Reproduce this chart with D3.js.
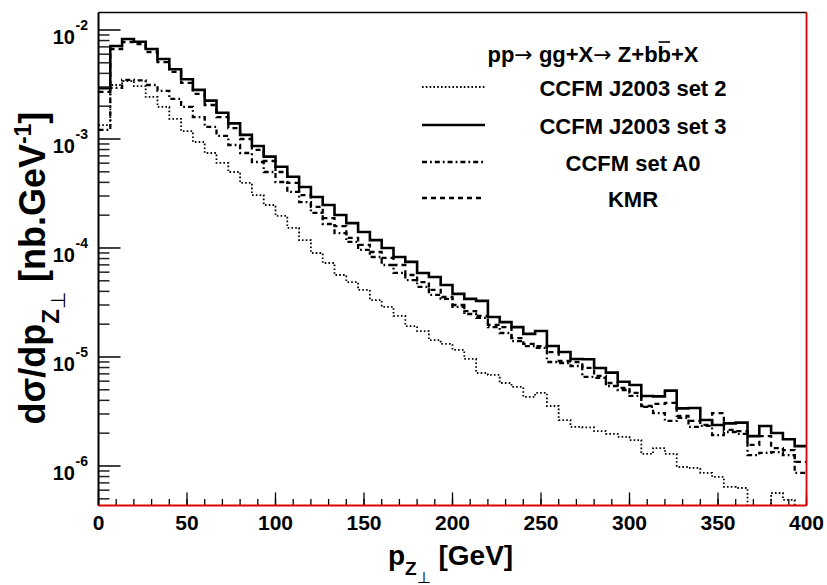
<!DOCTYPE html>
<html>
<head>
<meta charset="utf-8">
<script src="https://cdn.jsdelivr.net/npm/d3@7"></script>
<style>
  body { margin: 0; background: #fff; }
  text { font-family: "Liberation Sans", Arial, Helvetica, sans-serif; font-weight: bold; fill: #000; }
</style>
</head>
<body>
<div id="chart"></div>
<script>
// histogram binning: 60 bins from 0 to 400 GeV
var nBins = 60, xMin = 0, xMax = 400;

// bin contents (nb/GeV)
var set2 = [1.34e-3, 3.13e-3, 3.40e-3, 3.06e-3, 2.43e-3, 1.97e-3, 1.53e-3, 1.18e-3, 9.38e-4, 7.44e-4,
            6.03e-4, 4.98e-4, 3.95e-4, 3.06e-4, 2.48e-4, 1.97e-4, 1.53e-4, 1.18e-4, 9.0e-5, 7.28e-5,
            5.65e-5, 4.87e-5, 4.12e-5, 3.33e-5, 2.88e-5, 2.38e-5, 1.92e-5, 1.73e-5, 1.43e-5, 1.32e-5,
            1.16e-5, 9.59e-6, 7.13e-6, 6.84e-6, 5.77e-6, 5.31e-6, 4.30e-6, 4.68e-6, 3.55e-6, 2.64e-6,
            2.28e-6, 2.26e-6, 2.09e-6, 1.97e-6, 1.85e-6, 1.73e-6, 1.29e-6, 1.46e-6, 1.29e-6, 9.79e-7,
            9.59e-7, 8.63e-7, 7.93e-7, 6.42e-7, 6.28e-7, 3.5e-7, 3.0e-7, 5.65e-7, 4.88e-7, 3.0e-7];
var set3 = [2.92e-3, 7.13e-3, 8.27e-3, 7.81e-3, 6.69e-3, 5.42e-3, 4.36e-3, 3.53e-3, 2.82e-3, 2.25e-3,
            1.74e-3, 1.39e-3, 1.09e-3, 8.63e-4, 6.89e-4, 5.57e-4, 4.51e-4, 3.63e-4, 2.94e-4, 2.48e-4,
            2.01e-4, 1.69e-4, 1.40e-4, 1.18e-4, 1.00e-4, 8.27e-5, 7.45e-5, 5.90e-5, 5.42e-5, 4.58e-5,
            3.79e-5, 3.41e-5, 3.27e-5, 2.33e-5, 2.09e-5, 1.88e-5, 1.63e-5, 1.73e-5, 1.26e-5, 1.11e-5,
            9.59e-6, 9.52e-6, 7.93e-6, 7.18e-6, 5.93e-6, 5.53e-6, 4.39e-6, 4.35e-6, 4.91e-6, 3.38e-6,
            3.40e-6, 2.64e-6, 2.38e-6, 2.46e-6, 2.50e-6, 1.88e-6, 2.33e-6, 2.01e-6, 1.76e-6, 1.52e-6];
var setA0 = [1.21e-3, 2.94e-3, 3.48e-3, 3.45e-3, 3.13e-3, 2.76e-3, 2.33e-3, 1.97e-3, 1.59e-3, 1.29e-3,
             1.07e-3, 8.81e-4, 7.44e-4, 6.15e-4, 4.98e-4, 4.03e-4, 3.27e-4, 2.64e-4, 2.10e-4, 1.66e-4,
             1.37e-4, 1.14e-4, 9.59e-5, 8.27e-5, 6.98e-5, 5.90e-5, 5.08e-5, 4.39e-5, 3.71e-5, 3.41e-5,
             2.88e-5, 2.48e-5, 2.28e-5, 1.88e-5, 1.66e-5, 1.40e-5, 1.26e-5, 1.21e-5, 9.00e-6, 8.81e-6,
             8.27e-6, 6.56e-6, 6.42e-6, 5.42e-6, 4.98e-6, 4.39e-6, 3.48e-6, 3.06e-6, 2.59e-6, 2.76e-6,
             2.28e-6, 2.33e-6, 1.92e-6, 2.05e-6, 1.97e-6, 1.26e-6, 1.32e-6, 1.34e-6, 1.26e-6, 8.63e-7];
var kmr = [2.70e-3, 6.69e-3, 7.76e-3, 7.44e-3, 6.28e-3, 5.08e-3, 4.12e-3, 3.27e-3, 2.59e-3, 2.05e-3,
           1.59e-3, 1.26e-3, 1.00e-3, 7.93e-4, 6.28e-4, 4.98e-4, 3.95e-4, 3.06e-4, 2.38e-4, 1.88e-4,
           1.59e-4, 1.24e-4, 1.07e-4, 9.19e-5, 8.10e-5, 6.98e-5, 5.65e-5, 4.87e-5, 4.12e-5, 3.55e-5,
           3.00e-5, 2.64e-5, 2.38e-5, 1.97e-5, 1.88e-5, 1.49e-5, 1.32e-5, 1.26e-5, 1.11e-5, 9.19e-6,
           9.00e-6, 7.93e-6, 6.70e-6, 5.77e-6, 5.20e-6, 4.68e-6, 3.55e-6, 3.71e-6, 3.79e-6, 2.88e-6,
           2.59e-6, 2.38e-6, 3.06e-6, 2.14e-6, 2.09e-6, 1.56e-6, 1.88e-6, 1.46e-6, 1.40e-6, 1.09e-6];

var xTickLabels = [0, 50, 100, 150, 200, 250, 300, 350, 400];
var yDecades = [-6, -5, -4, -3, -2];
var legendLabels = ["CCFM J2003 set 2", "CCFM J2003 set 3", "CCFM set A0", "KMR"];

var W = 827, H = 585;
var plotL = 98.5, plotR = 806.5, plotT = 12.5, plotB = 505.5;

var svg = d3.select("#chart").append("svg")
    .attr("width", W).attr("height", H);
svg.append("rect").attr("width", W).attr("height", H).attr("fill", "#fff");

var x = d3.scaleLinear().domain([xMin, xMax]).range([plotL, plotR]);
var y = d3.scaleLog().domain([4.34e-7, 1.447e-2]).range([plotB, plotT]);

svg.append("clipPath").attr("id", "plot")
  .append("rect")
    .attr("x", plotL).attr("y", plotT)
    .attr("width", plotR - plotL).attr("height", plotB - plotT);

var edges = d3.range(nBins + 1).map(function(i) { return xMin + i * (xMax - xMin) / nBins; });

function steps(vals) {
  var pts = [];
  vals.forEach(function(v, i) {
    pts.push([edges[i], v]);
    pts.push([edges[i + 1], v]);
  });
  return pts;
}

var line = d3.line()
    .x(function(d) { return x(d[0]); })
    .y(function(d) { return y(d[1]); });

// series styles (ROOT line styles)
var series = [
  {vals: set2,  width: 1.8, dash: "1.6,2.2"},
  {vals: setA0, width: 2.3, dash: "5,3,1.8,3"},
  {vals: kmr,   width: 2.3, dash: "5,4"},
  {vals: set3,  width: 2.6, dash: null}
];

var g = svg.append("g").attr("clip-path", "url(#plot)");
series.forEach(function(s) {
  g.append("path")
    .attr("d", line(steps(s.vals)))
    .attr("fill", "none")
    .attr("stroke", "#000")
    .attr("stroke-width", s.width)
    .attr("stroke-dasharray", s.dash);
});

// y ticks (log)
var yMinor = [];
[-7, -6, -5, -4, -3, -2].forEach(function(e) {
  for (var m = 2; m <= 9; m++) {
    var v = m * Math.pow(10, e);
    if (v > y.domain()[0] && v < y.domain()[1]) yMinor.push(v);
  }
});
svg.selectAll(".yminor").data(yMinor).enter().append("line")
  .attr("x1", plotL).attr("x2", plotL + 11)
  .attr("y1", function(d) { return y(d); }).attr("y2", function(d) { return y(d); })
  .attr("stroke", "#222").attr("stroke-width", 1.5);
svg.selectAll(".ymajor").data(yDecades).enter().append("line")
  .attr("x1", plotL).attr("x2", plotL + 22)
  .attr("y1", function(d) { return y(Math.pow(10, d)); }).attr("y2", function(d) { return y(Math.pow(10, d)); })
  .attr("stroke", "#000").attr("stroke-width", 1.5);

yDecades.forEach(function(e) {
  var yy = y(Math.pow(10, e));
  svg.append("text").attr("x", 75).attr("y", yy + 14)
    .attr("text-anchor", "end").style("font-size", "20px").text("10");
  svg.append("text").attr("x", 75.5).attr("y", yy + 0.5)
    .attr("text-anchor", "start").style("font-size", "14px").text(String(e));
});

// x ticks
var xMinor = d3.range(xMin, xMax + 1, 10);
svg.selectAll(".xminor").data(xMinor).enter().append("line")
  .attr("x1", function(d) { return x(d); }).attr("x2", function(d) { return x(d); })
  .attr("y1", plotB).attr("y2", plotB - 6.5)
  .attr("stroke", "#000").attr("stroke-width", 1.3);
svg.selectAll(".xmajor").data(xTickLabels).enter().append("line")
  .attr("x1", function(d) { return x(d); }).attr("x2", function(d) { return x(d); })
  .attr("y1", plotB).attr("y2", plotB - 13)
  .attr("stroke", "#000").attr("stroke-width", 1.3);
svg.selectAll(".xlab").data(xTickLabels).enter().append("text")
  .attr("x", function(d) { return x(d); }).attr("y", 530)
  .attr("text-anchor", "middle").style("font-size", "21px")
  .text(function(d) { return d; });

// frame
svg.append("line").attr("x1", plotL).attr("x2", plotR).attr("y1", plotT).attr("y2", plotT)
  .attr("stroke", "#000").attr("stroke-width", 1.5);
svg.append("line").attr("x1", plotL).attr("x2", plotL).attr("y1", plotT).attr("y2", plotB)
  .attr("stroke", "#000").attr("stroke-width", 2);
svg.append("line").attr("x1", plotL).attr("x2", plotR).attr("y1", plotB).attr("y2", plotB)
  .attr("stroke", "#d00").attr("stroke-width", 1.8);
svg.append("line").attr("x1", plotR).attr("x2", plotR).attr("y1", plotT).attr("y2", plotB)
  .attr("stroke", "#d00").attr("stroke-width", 1.8);

// axis titles
var xt = svg.append("text").attr("x", 388).attr("y", 565).style("font-size", "28px");
xt.append("tspan").text("p");
xt.append("tspan").attr("dy", 10).style("font-size", "19px").text("Z");
xt.append("tspan").attr("dy", 8).style("font-size", "16px").style("font-weight", "normal").text("\u22A5");
xt.append("tspan").attr("dy", -18).text(" [GeV]");

var yt = svg.append("text")
  .attr("transform", "translate(45,268) rotate(-90)")
  .attr("text-anchor", "middle").style("font-size", "36px");
yt.append("tspan").text("d\u03C3/dp");
yt.append("tspan").attr("dy", 14).style("font-size", "24px").text("Z");
yt.append("tspan").attr("dy", 6).style("font-size", "20px").style("font-weight", "normal").text("\u22A5");
yt.append("tspan").attr("dy", -20).text("  [nb.GeV");
yt.append("tspan").attr("dy", -14).style("font-size", "23px").text("-1");
yt.append("tspan").attr("dy", 14).text("]");

// legend
var title = svg.append("text").attr("x", 593).attr("y", 62)
  .attr("text-anchor", "middle").style("font-size", "22px");
title.append("tspan").text("pp");
title.append("tspan").style("font-family", "DejaVu Sans").style("font-weight", "normal").text("\u2192");
title.append("tspan").text(" gg+X");
title.append("tspan").style("font-family", "DejaVu Sans").style("font-weight", "normal").text("\u2192");
title.append("tspan").text(" Z+bb+X");
var bExt = title.node().getExtentOfChar(13);
svg.append("line")
  .attr("x1", bExt.x + 1).attr("x2", bExt.x + bExt.width - 1)
  .attr("y1", 42).attr("y2", 42)
  .attr("stroke", "#000").attr("stroke-width", 1.6);

var legendStyles = [series[0], series[3], series[1], series[2]];
var legendY = [87, 125, 162, 198];
legendLabels.forEach(function(lab, i) {
  var s = legendStyles[i];
  svg.append("line")
    .attr("x1", 422).attr("x2", 485)
    .attr("y1", legendY[i]).attr("y2", legendY[i])
    .attr("stroke", "#000").attr("stroke-width", s.width)
    .attr("stroke-dasharray", s.dash);
  svg.append("text").attr("x", 633).attr("y", legendY[i] + 8.5)
    .attr("text-anchor", "middle").style("font-size", "22px").text(lab);
});
</script>
</body>
</html>
